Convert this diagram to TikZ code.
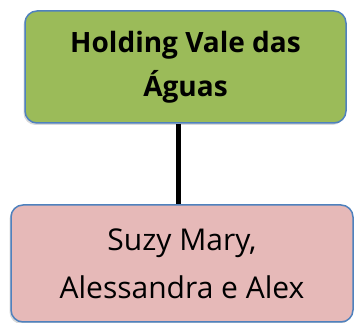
\documentclass[tikz,border=0pt]{standalone}
\usepackage{fontspec}
\setmainfont{Open Sans}
\usetikzlibrary{shadows}
\definecolor{boxgreen}{HTML}{9BBB59}
\definecolor{boxpink}{HTML}{E6B9B8}
\definecolor{boxline}{HTML}{4F81BD}
\tikzset{
  orgbox/.style={draw=boxline, line width=1.5pt, rounded corners=12pt,
    align=center, inner sep=0pt,
    drop shadow={shadow xshift=-1.5pt, shadow yshift=-2pt, opacity=0.25, fill=black!60}},
  link/.style={line width=5pt, draw=black}
}
\begin{document}
\begin{tikzpicture}[x=1pt,y=1pt]
\useasboundingbox (0,0) rectangle (354,-323);
\node[orgbox, fill=boxgreen, minimum width=321pt, minimum height=112pt,
  font=\bfseries\fontsize{28}{44}\selectfont] (top) at (185.5,-67)
  {Holding Vale das\\Águas};
\node[orgbox, fill=boxpink, minimum width=342pt, minimum height=117pt,
  font=\fontsize{30}{48}\selectfont] (bot) at (182,-263.5)
  {Suzy Mary,\\Alessandra e Alex};
\draw[link] ([xshift=-7.5pt]top.south) -- ([xshift=-7.5pt]top.south |- bot.north);
\end{tikzpicture}
\end{document}
